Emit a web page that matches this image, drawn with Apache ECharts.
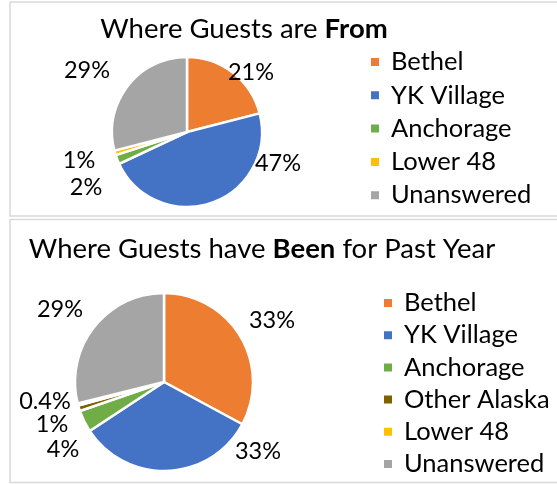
<!DOCTYPE html>
<html><head><meta charset="utf-8">
<script src="https://cdn.jsdelivr.net/npm/echarts@6/dist/echarts.min.js"></script>
<style>html,body{margin:0;padding:0;background:#fff}#c{width:557px;height:484px}</style>
</head><body><div id="c"></div>
<script>
// ---- data ----
const fromCategories = ['Bethel', 'YK Village', 'Anchorage', 'Lower 48', 'Unanswered'];
const fromValues = [21, 47, 2, 1, 29];
const fromLabels = ['21%', '47%', '2%', '1%', '29%'];

const beenCategories = ['Bethel', 'YK Village', 'Anchorage', 'Other Alaska', 'Lower 48', 'Unanswered'];
const beenValues = [33, 33, 4, 1, 0.4, 29];
const beenLabels = ['33%', '33%', '4%', '1%', '0.4%', '29%'];

// ---- styling ----
const colorMap = {
  'Bethel': '#ED7D31', 'YK Village': '#4472C4', 'Anchorage': '#70AD47',
  'Other Alaska': '#7F6000', 'Lower 48': '#FFC000', 'Unanswered': '#A5A5A5'
};
const FONT = 'Lato';
// label anchor positions (text centres) as placed in the reference
const fromLabelPos = [[251, 72], [278, 163], [86, 187], [79, 160], [87, 70]];
const beenLabelPos = [[272, 320], [258, 451], [63, 449], [52, 424], [45, 401], [60, 309]];

function mk(cats, vals, labels) {
  return cats.map((c, i) => ({ name: c, value: vals[i], label: { formatter: labels[i] }, itemStyle: { color: colorMap[c] } }));
}

const chart = echarts.init(document.getElementById('c'), null, { renderer: 'canvas' });
const labelStyle = { show: true, position: 'outside', fontFamily: FONT, fontSize: 23.5, color: '#000' };
const titleRich = { b: { fontFamily: FONT, fontSize: 27.5, fontWeight: 'bold', fill: '#000' } };
chart.setOption({
  animation: false,
  textStyle: { fontFamily: FONT },
  graphic: [
    { type: 'rect', shape: { x: 10, y: 2, width: 560, height: 214 }, style: { fill: 'none', stroke: '#d9d9d9', lineWidth: 1.5 } },
    { type: 'rect', shape: { x: 10, y: 219.5, width: 560, height: 263 }, style: { fill: 'none', stroke: '#d9d9d9', lineWidth: 1.5 } },
    { type: 'text', x: 244, y: 29, style: { text: 'Where Guests are {b|From}', fontFamily: FONT, fontSize: 27.5, fill: '#000', textAlign: 'center', textVerticalAlign: 'middle', rich: titleRich } },
    { type: 'text', x: 262, y: 249, style: { text: 'Where Guests have {b|Been} for Past Year', fontFamily: FONT, fontSize: 27.5, fill: '#000', textAlign: 'center', textVerticalAlign: 'middle', rich: titleRich } }
  ],
  legend: [
    { orient: 'vertical', left: 369, top: 49, itemWidth: 10, itemHeight: 10, itemGap: 7.3, icon: 'rect',
      data: fromCategories, selectedMode: false, padding: 0,
      textStyle: { fontFamily: FONT, fontSize: 25.5, lineHeight: 26, color: '#000', padding: [0, 0, 0, 6] } },
    { orient: 'vertical', left: 382, top: 290, itemWidth: 10, itemHeight: 10, itemGap: 6.2, icon: 'rect',
      data: beenCategories, selectedMode: false, padding: 0,
      textStyle: { fontFamily: FONT, fontSize: 25.5, lineHeight: 26, color: '#000', padding: [0, 0, 0, 6] } }
  ],
  series: [
    { type: 'pie', center: [187, 132], radius: 75, startAngle: 90, clockwise: true,
      avoidLabelOverlap: false, silent: true,
      itemStyle: { borderColor: '#fff', borderWidth: 2.5 },
      label: labelStyle, labelLine: { show: false },
      labelLayout: p => ({ x: fromLabelPos[p.dataIndex][0], y: fromLabelPos[p.dataIndex][1], align: 'center', verticalAlign: 'middle' }),
      data: mk(fromCategories, fromValues, fromLabels) },
    { type: 'pie', center: [164, 382], radius: 89, startAngle: 90, clockwise: true,
      avoidLabelOverlap: false, silent: true,
      itemStyle: { borderColor: '#fff', borderWidth: 2.5 },
      label: labelStyle, labelLine: { show: false },
      labelLayout: p => ({ x: beenLabelPos[p.dataIndex][0], y: beenLabelPos[p.dataIndex][1], align: 'center', verticalAlign: 'middle' }),
      data: mk(beenCategories, beenValues, beenLabels) }
  ]
});
</script></body></html>
